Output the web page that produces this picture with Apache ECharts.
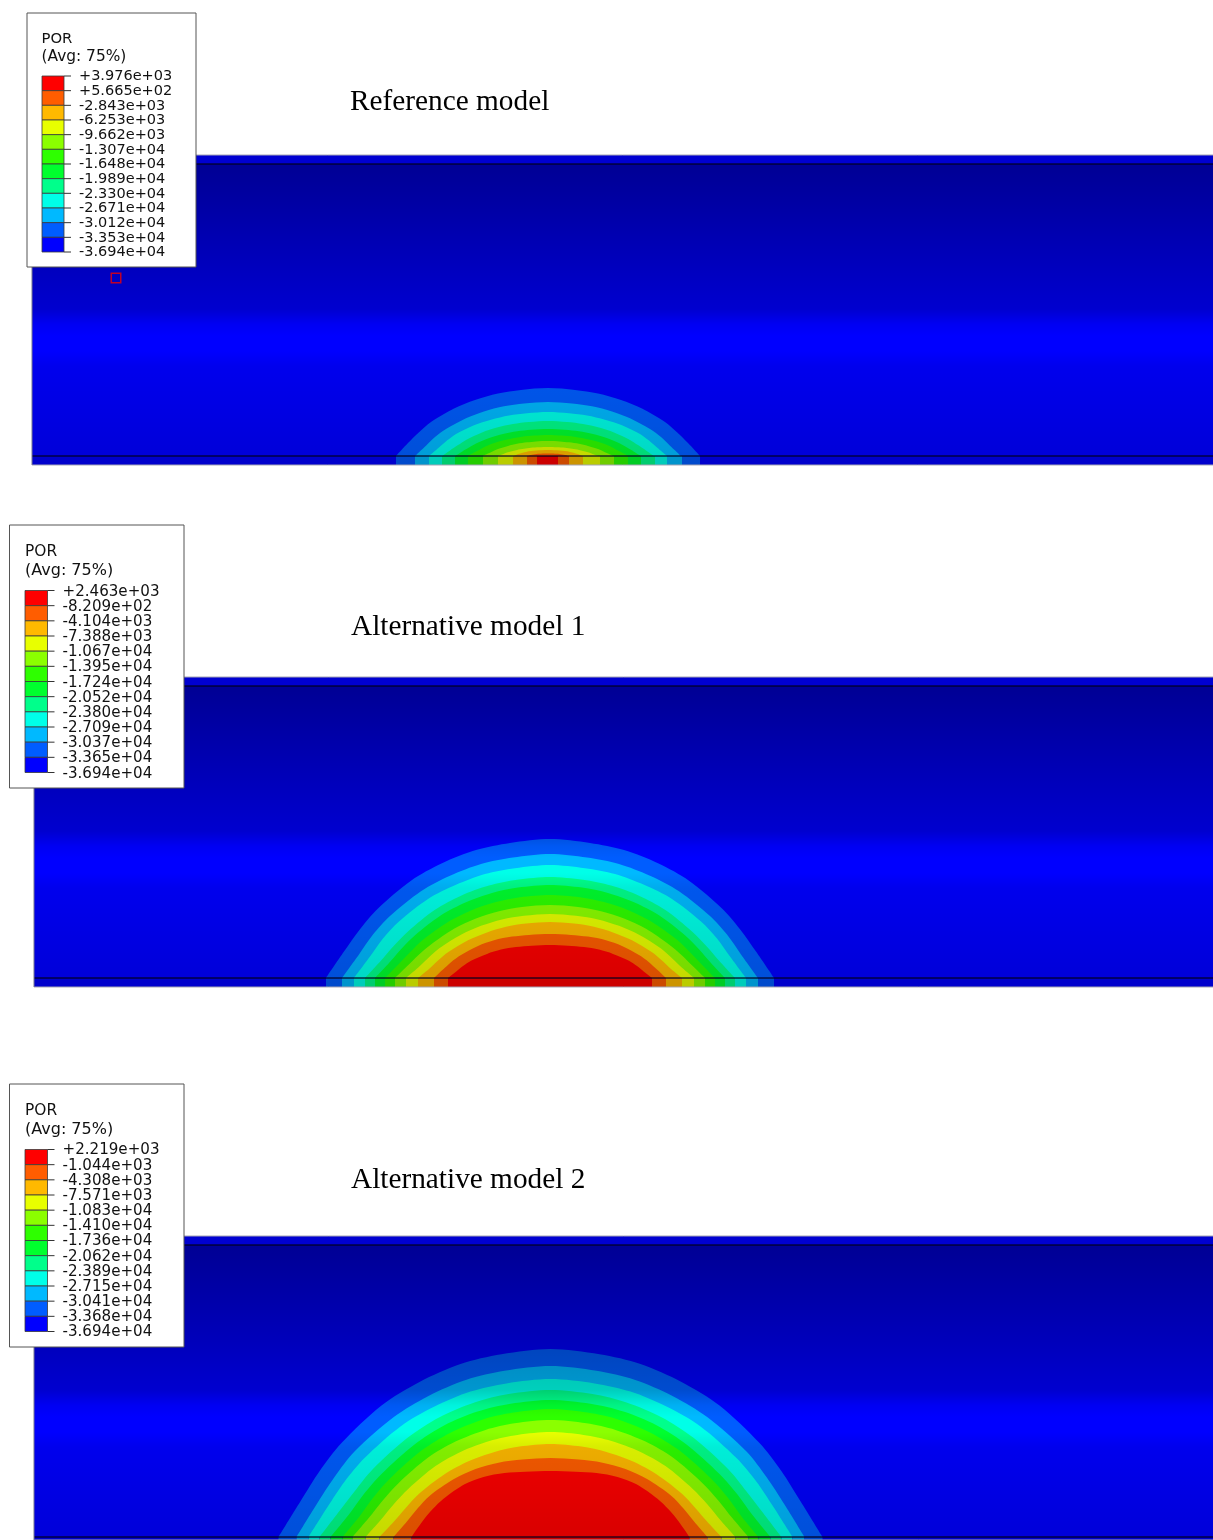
<!DOCTYPE html>
<html>
<head>
<meta charset="utf-8">
<style>html,body{margin:0;padding:0;background:#fff}#c{width:1213px;height:1540px}</style>
<script src="https://cdn.jsdelivr.net/npm/echarts@6/dist/echarts.min.js"></script>
</head>
<body>
<div id="c"></div>
<script>
// Level colours, top of the legend to bottom
const legendColors = ['#ff0000','#ff5d00','#ffb900','#e8ff00','#8bff00','#2eff00','#00ff2e','#00ff8b','#00ffe8','#00b9ff','#005dff','#0000ff'];
// Contour fill colours from the outermost band inward
const contourColors = ['#005dff','#00b9ff','#00ffe8','#00ff8b','#00ff2e','#2eff00','#8bff00','#e8ff00','#ffb900','#ff5d00','#ff0000'];

const panelTitles = ['Reference model','Alternative model 1','Alternative model 2'];

const labelsRef = ['+3.976e+03','+5.665e+02','-2.843e+03','-6.253e+03','-9.662e+03','-1.307e+04','-1.648e+04','-1.989e+04','-2.330e+04','-2.671e+04','-3.012e+04','-3.353e+04','-3.694e+04'];
const labelsAlt1 = ['+2.463e+03','-8.209e+02','-4.104e+03','-7.388e+03','-1.067e+04','-1.395e+04','-1.724e+04','-2.052e+04','-2.380e+04','-2.709e+04','-3.037e+04','-3.365e+04','-3.694e+04'];
const labelsAlt2 = ['+2.219e+03','-1.044e+03','-4.308e+03','-7.571e+03','-1.083e+04','-1.410e+04','-1.736e+04','-2.062e+04','-2.389e+04','-2.715e+04','-3.041e+04','-3.368e+04','-3.694e+04'];

// Half-profiles of the contours: [distances from the centre], [heights above the base line]
const contoursRef = [
 [[0,27,50,73,94,117,129,140,152],[68,66.1,62.6,56.1,47.6,34,23.8,12.9,0]],
 [[0,24,44,64,82,102,113,122,133],[54,52.5,49.7,44.6,37.8,27,18.9,10.3,0]],
 [[0,21,39,57,74,92,101,109,119],[44,42.8,40.5,36.3,30.8,22,15.4,8.4,0]],
 [[0,19,35,51,66,82,90,98,106],[35,34,32,28.5,23.6,16.1,10.9,5.6,0]],
 [[0,17,31,45,58,72,79,86,93],[27,26.2,24.7,22,18.2,12.4,8.4,4.3,0]],
 [[0,14,26,38,50,62,68,74,80],[21,20.4,19.2,17.1,14.2,9.7,6.5,3.4,0]],
 [[0,12,21,31,40,50,55,60,65],[15,14.6,13.7,12.2,10.1,6.9,4.7,2.4,0]],
 [[0,9,17,24,31,39,43,46,50],[9,8.7,8.2,7.3,6.1,4.1,2.8,1.4,0]],
 [[0,6,12,17,22,27,30,32,35],[6,5.8,5.5,4.9,4.1,2.8,1.9,1,0]],
 [[0,4,7,10,13,16,18,19,21],[2.5,2.45,2.35,2.15,1.8,1.3,0.9,0.5,0]]
];
const contoursAlt1 = [
 [[0,40,74,108,139,172,190,206,224],[139,135.1,127.9,114.7,97.3,69.5,48.7,26.4,0]],
 [[0,37,69,100,129,160,177,191,208],[124,120.5,114.1,102.3,86.8,62,43.4,23.6,0]],
 [[0,35,65,94,122,151,167,180,196],[113,109.8,104,93.2,79.1,56.5,39.6,21.5,0]],
 [[0,33,61,89,115,142,157,170,185],[101,98.2,92.4,82.3,68.2,46.5,31.3,16.2,0]],
 [[0,32,58,84,109,135,149,161,175],[93,90.4,85.1,75.8,62.8,42.8,28.8,14.9,0]],
 [[0,30,54,79,102,127,140,152,165],[83,80.7,75.9,67.6,56,38.2,25.7,13.3,0]],
 [[0,28,51,74,96,119,132,143,155],[73,71,66.8,59.5,49.3,33.6,22.6,11.7,0]],
 [[0,26,48,69,89,111,122,132,144],[64,62.2,58.6,52.2,43.2,29.4,19.8,10.2,0]],
 [[0,24,44,63,82,102,112,121,132],[56,54.4,51.2,45.6,37.8,25.8,17.4,9,0]],
 [[0,21,38,56,72,89,99,107,116],[44,43.1,41.4,37.8,32.1,22.9,15.8,8.4,0]],
 [[0,18,34,49,63,79,87,94,102],[33,32.3,31,28.4,24.1,17.2,11.9,6.3,0]]
];
const contoursAlt2 = [
 [[0,49,90,131,169,209,231,250,272],[188,182.7,173,155.1,131.6,94,65.8,35.7,0]],
 [[0,46,84,122,157,196,216,234,254],[171,166.2,157.3,141.1,119.7,85.5,59.9,32.5,0]],
 [[0,44,80,116,150,186,206,223,242],[158,153.6,145.4,130.4,110.6,79,55.3,30,0]],
 [[0,42,76,111,143,178,196,213,231],[147,142.9,134.5,119.8,99.2,67.6,45.6,23.5,0]],
 [[0,40,73,106,136,169,187,202,220],[137,133.2,125.4,111.7,92.5,63,42.5,21.9,0]],
 [[0,37,69,100,129,160,177,191,208],[128,124.4,117.1,104.3,86.4,58.9,39.7,20.5,0]],
 [[0,36,65,95,123,152,168,182,198],[117,113.7,107.1,95.4,79,53.8,36.3,18.7,0]],
 [[0,33,61,89,115,142,157,170,185],[105,102.1,96.1,85.6,70.9,48.3,32.6,16.8,0]],
 [[0,31,56,82,106,132,145,157,171],[93,90.4,85.1,75.8,62.8,42.8,28.8,14.9,0]],
 [[0,28,52,75,97,121,133,144,157],[79,77.4,74.3,67.9,57.7,41.1,28.4,15,0]],
 [[0,25,46,67,86,107,118,128,139],[66,65.3,64,60.1,52.8,38.3,27.7,15.8,0]]
];

// Block edges along the strip below the base line, left to right
const stripRef  = [-152,-133,-119,-106,-93,-80,-65,-50,-35,-21,-11,10,21,35,52,66,80,93,107,119,134,152];
const stripAlt1 = [-224,-208,-196,-185,-175,-165,-155,-144,-132,-116,-102,102,116,132,144,155,165,175,185,196,208,224];
const stripAlt2 = [-272,-254,-242,-231,-220,-208,-198,-185,-171,-157,-139,139,157,171,185,198,208,220,231,242,254,272];

// Lighting rows: [height top, height bottom, darkness at top, darkness at bottom]
const lightingRows = [
 [301,292,0.18,0.18],[292,147,0.42,0.19],[147,132,0.19,0.05],[132,120,0.05,0],
 [120,105,0,0],[105,90,0,0.07],[90,0,0.07,0.15],[0,-9,0.2,0.2]
];

// Red marker in the reference panel
const markerRef = [[-432,178]];

const panels = [
 {top:155,left:32,height:310,yMin:-9,xMin:-516,xMax:665,contours:contoursRef,strip:stripRef,labels:labelsRef,title:[350,88],
  box:[27,13,169,254],leg:{x:42,w:22,y:76,h:176},lab:0.5,fs:14.5,head:[41.5,39,57],hfs:[14.8,15.4]},
 {top:677,left:34,height:310,yMin:-9,xMin:-516,xMax:663,contours:contoursAlt1,strip:stripAlt1,labels:labelsAlt1,title:[351,613],
  box:[9.5,525,174.5,263],leg:{x:25,w:22.5,y:590.5,h:182},lab:1.2,fs:15.1,head:[25,552,571],hfs:[15.4,16]},
 {top:1236,left:34,height:304,yMin:-3,xMin:-516.5,xMax:662.5,contours:contoursAlt2,strip:stripAlt2,labels:labelsAlt2,title:[351,1166],
  box:[9.5,1084,174.5,263],leg:{x:25,w:22.5,y:1149.5,h:182},lab:1,fs:15.1,head:[25,1111,1130],hfs:[15.4,16]}
];

function mirrored(profile){
  const xs=profile[0], hs=profile[1], out=[];
  for(let j=xs.length-1;j>0;j--) out.push([-xs[j],hs[j]]);
  for(let j=0;j<xs.length;j++) out.push([xs[j],hs[j]]);
  return out;
}

const chart = echarts.init(document.getElementById('c'), null, {renderer:'canvas', width:1213, height:1540});

const grids=[], xAxes=[], yAxes=[], series=[], titles=[], graphics=[];
const FONT='"DejaVu Sans"';

panels.forEach((p,i)=>{
  grids.push({left:p.left,top:p.top,width:1213-p.left,height:p.height,show:true,backgroundColor:'#0000ff',borderWidth:0,containLabel:false});
  xAxes.push({type:'value',gridIndex:i,min:p.xMin,max:p.xMax,show:false});
  yAxes.push({type:'value',gridIndex:i,min:p.yMin,max:301,show:false,scale:false});
  titles.push({text:panelTitles[i],left:p.title[0],top:p.title[1],padding:0,
    textStyle:{fontFamily:'"Liberation Serif"',fontSize:29.3,fontWeight:'normal',color:'#000'}});

  p.contours.forEach((c,k)=>{
    series.push({type:'line',xAxisIndex:i,yAxisIndex:i,data:mirrored(c),smooth:0.3,showSymbol:false,silent:true,z:2,
      lineStyle:{width:0},areaStyle:{color:contourColors[k],opacity:1,origin:0},animation:false});
  });

  // strip blocks under the base line
  const blocks=[];
  for(let b=0;b<p.strip.length-1;b++){blocks.push([p.strip[b],p.strip[b+1],Math.min(b,20-b)]);}
  series.push({type:'custom',xAxisIndex:i,yAxisIndex:i,z:3,silent:true,animation:false,data:blocks,encode:{x:[0,1]},
    renderItem:(params,api)=>{
      const a=api.coord([api.value(0),0]), b=api.coord([api.value(1),p.yMin]);
      return {type:'rect',shape:{x:a[0],y:a[1],width:b[0]-a[0],height:b[1]-a[1]},style:{fill:contourColors[api.value(2)]}};
    }});

  // lighting over everything
  series.push({type:'custom',xAxisIndex:i,yAxisIndex:i,z:4,silent:true,animation:false,data:lightingRows,encode:{y:[0,1]},
    renderItem:(params,api)=>{
      const t=api.coord([0,api.value(0)]), b=api.coord([0,api.value(1)]);
      return {type:'rect',shape:{x:params.coordSys.x,y:t[1],width:params.coordSys.width,height:b[1]-t[1]},
        style:{fill:{type:'linear',x:0,y:0,x2:0,y2:1,colorStops:[
          {offset:0,color:'rgba(0,0,0,'+api.value(2)+')'},{offset:1,color:'rgba(0,0,0,'+api.value(3)+')'}]}}};
    }});

  // model edges: the two dark lines and the grey outline
  series.push({type:'custom',xAxisIndex:i,yAxisIndex:i,z:5,silent:true,animation:false,data:[[292],[0]],encode:{y:0},
    renderItem:(params,api)=>{
      const y=api.coord([0,api.value(0)])[1], cs=params.coordSys;
      return {type:'line',shape:{x1:cs.x,y1:y,x2:cs.x+cs.width,y2:y},style:{stroke:'rgba(0,0,30,0.8)',lineWidth:1.4}};
    }});
  series.push({type:'custom',xAxisIndex:i,yAxisIndex:i,z:5,silent:true,animation:false,data:[[301],[p.yMin]],encode:{y:0},
    renderItem:(params,api)=>{
      const y=api.coord([0,api.value(0)])[1], cs=params.coordSys;
      return {type:'line',shape:{x1:cs.x,y1:y,x2:cs.x+cs.width,y2:y},style:{stroke:'#a5a5b5',lineWidth:1}};
    }});
  series.push({type:'custom',xAxisIndex:i,yAxisIndex:i,z:5,silent:true,animation:false,data:[[p.xMin]],encode:{x:0},
    renderItem:(params,api)=>{
      const x=api.coord([api.value(0),0])[0], cs=params.coordSys;
      return {type:'line',shape:{x1:x,y1:cs.y,x2:x,y2:cs.y+cs.height},style:{stroke:'#77778f',lineWidth:1}};
    }});

  if(i===0){
    series.push({type:'scatter',xAxisIndex:0,yAxisIndex:0,z:6,silent:true,animation:false,data:markerRef,symbol:'rect',symbolSize:9.5,
      itemStyle:{color:'rgba(0,0,0,0)',borderColor:'#f00000',borderWidth:1.5}});
  }

  // legend panel
  graphics.push({type:'rect',z:50,silent:true,shape:{x:p.box[0],y:p.box[1],width:p.box[2],height:p.box[3]},
    style:{fill:'#fff',stroke:'#555',lineWidth:1}});
  graphics.push({type:'text',z:51,silent:true,x:p.head[0],y:p.head[1],style:{text:'POR',font:p.hfs[0]+'px '+FONT,fill:'#111',verticalAlign:'middle'}});
  graphics.push({type:'text',z:51,silent:true,x:p.head[0],y:p.head[2],style:{text:'(Avg: 75%)',font:p.hfs[1]+'px '+FONT,fill:'#111',verticalAlign:'middle'}});
});

// legend colour bars with their ticks
panels.forEach((p,i)=>{
  const g=3+i;
  grids.push({left:p.leg.x,top:p.leg.y,width:p.leg.w,height:p.leg.h,containLabel:false});
  xAxes.push({type:'value',gridIndex:g,min:0,max:1,show:false});
  yAxes.push({type:'category',gridIndex:g,data:p.labels,inverse:true,boundaryGap:false,show:false});
  series.push({type:'custom',xAxisIndex:g,yAxisIndex:g,z:61,silent:true,animation:false,
    data:legendColors.map((c,k)=>[k,k]),encode:{y:0},
    renderItem:(params,api)=>{
      const a=api.coord([0,api.value(0)]), b=api.coord([1,api.value(0)+1]);
      return {type:'rect',shape:{x:a[0],y:a[1],width:b[0]-a[0],height:b[1]-a[1]},
        style:{fill:legendColors[api.value(1)],stroke:'#3a3a3a',lineWidth:0.8}};
    }});
  series.push({type:'custom',xAxisIndex:g,yAxisIndex:g,z:62,silent:true,animation:false,clip:false,
    data:p.labels.map((t,k)=>[k]),encode:{y:0},
    renderItem:(params,api)=>{
      const a=api.coord([1,api.value(0)]);
      return {type:'line',shape:{x1:a[0],y1:a[1],x2:a[0]+7,y2:a[1]},style:{stroke:'#333',lineWidth:1}};
    }});
});

// legend tick labels
panels.forEach((p,i)=>{
  const g=6+i;
  grids.push({left:p.leg.x,top:p.leg.y+p.lab,width:p.leg.w,height:p.leg.h,containLabel:false});
  xAxes.push({type:'value',gridIndex:g,min:0,max:1,show:false});
  yAxes.push({type:'category',gridIndex:g,data:p.labels,inverse:true,boundaryGap:false,position:'right',z:60,
    axisLine:{show:false},axisTick:{show:false},splitLine:{show:false},
    axisLabel:{show:true,interval:0,margin:15,fontFamily:FONT,fontSize:p.fs,color:'#111',showMinLabel:true,showMaxLabel:true,hideOverlap:false}});
});

chart.setOption({
  animation:false,
  backgroundColor:'#fff',
  title:titles,
  grid:grids,
  xAxis:xAxes,
  yAxis:yAxes,
  series:series,
  graphic:{elements:graphics},
  tooltip:{show:false},
  legend:{show:false}
});
</script>
</body>
</html>
